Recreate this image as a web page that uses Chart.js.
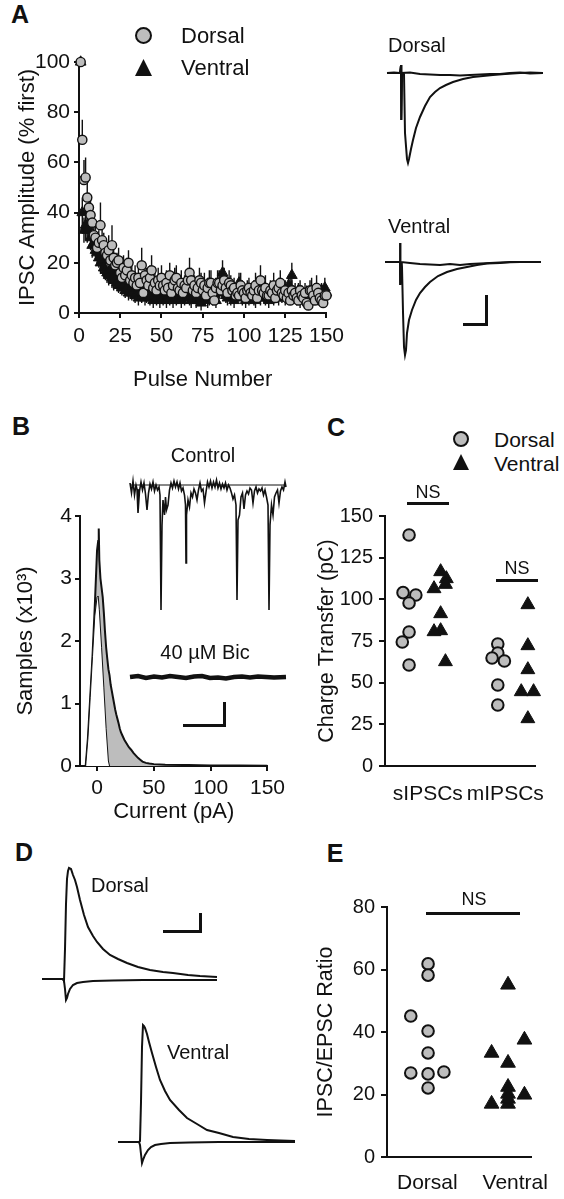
<!DOCTYPE html>
<html><head><meta charset="utf-8">
<script src="https://cdn.jsdelivr.net/npm/chart.js@4.4.0/dist/chart.umd.min.js"></script>
<style>
html,body{margin:0;padding:0;background:#fff;}
body{width:564px;height:1199px;position:relative;overflow:hidden;font-family:'Liberation Sans',Arial,Helvetica,sans-serif;color:#111;}
canvas{position:absolute;}
.t{position:absolute;line-height:1;white-space:nowrap;}
.bar{position:absolute;background:#111;}
svg{position:absolute;}
</style></head><body>
<script>
// ---------------- DATA ----------------
// Panel A: IPSC amplitude (% first) per pulse
const A_PULSE_COUNT = 150;
const A_X_TICKS = [0,25,50,75,100,125,150];
const A_Y_TICKS = [0,20,40,60,80,100];
const DORSAL_AMP = [100,69,53,54,46,42,39,36,31,30,
 26,28,35,29,27,24,23,25,21,27,
 22,19,20,21,16,14,18,15,17,20,
 13,15,12,14,11,14,12,19,8,15,
 13,11,14,17,10,12,9,13,11,14,
 11,9,12,10,15,8,11,13,14,10,
 9,12,8,11,10,13,16,13,9,11,
 8,10,13,12,9,11,7,10,12,12,
 8,5,10,12,12,9,11,13,10,8,
 12,11,9,10,7,8,7,11,9,8,
 6,9,10,8,7,9,11,6,9,13,
 9,8,10,7,7,9,8,11,6,9,
 10,12,8,7,9,6,8,5,9,7,
 8,6,5,9,7,6,8,4,3,9,
 9,7,5,10,8,6,5,4,7,7];
const DORSAL_ERR = [0,8,8,8,7,6,6,6,5,6,
 5,5,9,5,5,5,5,6,5,8,
 5,5,4,5,5,4,5,5,5,5,
 4,5,4,5,4,5,4,7,4,5,
 5,4,5,6,4,5,4,5,4,5,
 4,4,5,4,5,4,4,5,5,4,
 4,5,4,4,4,5,6,5,4,4,
 4,4,5,4,4,5,4,4,5,5,
 4,3,4,5,5,4,5,5,4,4,
 5,4,4,4,4,4,4,5,4,4,
 4,4,4,4,4,4,5,4,4,6,
 4,4,5,4,4,4,4,5,4,4,
 4,5,4,4,4,4,4,4,4,4,
 4,4,4,4,4,4,4,3,3,4,
 5,4,4,5,4,4,4,3,4,4];
const VENTRAL_AMP = [100,40,33,35,33,34,30,27,28,25,
 24,22,20,21,18,17,16,15,17,14,
 13,15,12,11,12,10,11,9,10,8,
 9,8,10,7,8,6,9,7,8,6,
 7,8,6,9,5,7,6,8,5,7,
 6,8,5,7,6,9,5,7,6,8,
 7,5,8,6,9,7,6,5,8,7,
 5,7,6,4,8,6,7,5,6,8,
 6,7,5,8,9,12,16,10,7,6,
 8,6,7,5,9,7,12,8,6,7,
 5,8,6,7,9,6,5,8,7,6,
 9,7,6,8,5,7,9,6,8,7,
 6,8,7,9,6,8,11,10,15,8,
 7,6,9,5,8,7,6,8,5,7,
 6,8,9,7,6,8,9,7,10,8];
const VENTRAL_ERR = [0,6,5,6,5,5,5,5,5,4,
 5,4,4,4,4,4,4,4,4,4,
 4,4,3,3,3,3,3,3,3,3,
 3,3,3,3,3,3,3,3,3,3,
 3,3,3,3,3,3,3,3,3,3,
 3,3,3,3,3,3,3,3,3,3,
 3,3,3,3,3,3,3,3,3,3,
 3,3,3,3,3,3,3,3,3,3,
 3,3,3,3,3,4,5,4,3,3,
 3,3,3,3,3,3,4,3,3,3,
 3,3,3,3,3,3,3,3,3,3,
 3,3,3,3,3,3,3,3,3,3,
 3,3,3,3,3,3,4,4,5,3,
 3,3,3,3,3,3,3,3,3,3,
 3,3,3,3,3,3,3,3,4,3];

// Panel A example traces (time ms, current pA; relative to stimulus / baseline)
const A_DOR_T_IPSC = [-13,-6,0,1,1.3,2,4,5,7,8,9,11,13,16,20,25,30,35,40,46,53,63,73,83,93,105,120,130,143];
const A_DOR_I_IPSC = [0,0.5,0,8,-47,0,-1,-60,-86,-90,-86,-76,-67,-55,-44,-33,-24,-19,-15,-12,-9,-6,-4,-3,-2,-1,0,0.5,0];
const A_DOR_T_FLAT = [-13,0,1,1.3,2,10,20,30,40,50,60,70,80,90,100,110,120,130,143];
const A_DOR_I_FLAT = [0,0,8,-47,0,0.5,-1,-1.5,-2,-2,-2.5,-2,-1.5,-1,-1,0,0.5,-0.5,0];
const A_VEN_T_IPSC = [-15,0,0,0.5,1.5,2,3,4,5,6,7,9,12,16,20,25,30,38,47,57,67,77,87,100,110,125,141];
const A_VEN_I_IPSC = [0,0,19,-23,0,-5,-50,-85,-93,-88,-71,-58,-48,-38,-31,-25,-20,-14,-10,-7,-5,-3,-1.5,-1,0,0,0];
const A_VEN_T_FLAT = [-15,0,0,0.5,1.5,10,20,30,40,50,60,70,80,90,100,120,141];
const A_VEN_I_FLAT = [0,0,19,-23,0,-1,-2,-2.5,-3,-2,-3,-2,-1.5,-1,-0.5,0,0];

// Panel B: all-points histogram (current pA, samples x10^3)
const B_X_TICKS = [0,50,100,150];
const B_Y_TICKS = [0,1,2,3,4];
const HIST_CTRL_X = [-10,-8,-6,-4,-2,-1,0,1,1.5,2,3,4,5,6,7,8,9,10,11,12,13,14,15,16,17,18,19,20,21,22,24,26,28,30,32,34,36,38,40,43,46,50,60,80,100,125,150];
const HIST_CTRL_Y = [0,0.45,1.1,1.75,2.55,3.0,3.45,3.6,3.8,3.3,3.0,2.85,2.7,2.45,2.15,1.9,1.72,1.55,1.45,1.3,1.2,1.1,1.0,0.9,0.82,0.75,0.68,0.6,0.54,0.5,0.42,0.36,0.3,0.26,0.21,0.17,0.13,0.1,0.07,0.05,0.04,0.03,0.02,0.015,0.01,0.007,0.004];
const HIST_BIC_X = [-10,-8,-6,-4,-2,0,1,2,4,6,8,10,11];
const HIST_BIC_Y = [0,0.45,1.1,1.75,2.4,2.7,2.72,2.5,1.9,1.25,0.6,0.08,0];
// Panel B example traces
const B_CTRL_T = [0,1.5,3,4.5,6,7,8,9.5,11,12.5,14,15.5,17,18.5,20,21.5,23,24.5,26,27.5,29,30,31,32,33,34.5,35.5,36.5,38,39.5,41,42.5,44,45.5,47,48.5,50,51.5,53,54.5,55.5,56,56.5,58,59.5,61,62.5,64,65.5,67,68.5,70,71.5,73,74.5,76,77.5,79,80.5,82,83.5,85,86.5,88,89.5,91,92.5,94,95.5,97,98.5,100,101.5,103,104.5,106,107,108,109.5,111,112.5,114,115.5,117,118.5,120,121.5,123,124.5,126,127.5,129,130.5,132,133.5,135,136.5,138,139,140,141.5,143,144.5,146,147.5,149,150.5,152,153.5,155,156];
const B_CTRL_I = [2,-8,4,-10,0,-4,-28,-6,3,-5,2,-9,-25,-8,1,-4,3,-6,0,-5,-2,-10,-125,-40,-15,-30,-12,-25,-20,-5,2,-3,4,-2,3,-4,2,-6,-3,-10,-20,-78,-30,-15,-22,-8,-12,-4,-8,-15,-5,2,-6,-4,-18,-7,3,-2,4,-3,3,-2,5,-3,2,-4,1,-3,2,-5,0,-3,-8,-14,-10,-20,-115,-35,-30,-12,-8,-24,-10,-6,-9,-3,-5,-18,-6,-2,-8,-4,-6,-3,-10,-5,-12,-20,-125,-40,-20,-30,-12,-8,-5,-18,-6,-2,-5,3,-2];
const B_BASE_T = [0,156];
const B_BASE_I = [0,0];
const B_BIC_T = [0,8,16,24,32,40,48,56,64,72,80,88,96,104,112,120,128,136,144,156];
const B_BIC_I = [0,1,-1,0.5,-0.5,1,0,-1,0.5,1,-1,-0.5,-1.5,0,0.5,-0.5,0.5,0,-0.5,0];

// Panel C: charge transfer (pC)
const C_Y_TICKS = [0,25,50,75,100,125,150];
const C_GROUPS = ['sIPSCs','mIPSCs'];
const C_DOR_S = [138.6,104,102.6,97.8,80.4,74.4,60.6];
const C_DOR_S_JIT = [0,-4,4.5,0,0,-4.5,0];
const C_VEN_S = [116.6,112.4,109,106.4,91.4,81.2,80.6,62.6];
const C_VEN_S_JIT = [0,3.8,3.2,-4.4,0,0,-4.4,3.2];
const C_DOR_M = [73.2,67.8,64.8,63,48.6,36.6];
const C_DOR_M_JIT = [0,0,-3.8,4.4,0,0];
const C_VEN_M = [96.8,72.2,57.8,44.6,44.6,28.4];
const C_VEN_M_JIT = [0,0,0,-4.4,3.8,0];

// Panel E: IPSC/EPSC ratio
const E_Y_TICKS = [0,20,40,60,80];
const E_GROUPS = ['Dorsal','Ventral'];
const E_DOR = [61.8,58.2,45.1,40.3,33.3,26.9,26.6,27.2,22.1];
const E_DOR_JIT = [0,0,-12,0,0,-12,0,11,0];
const E_VEN = [55.1,37.5,33.3,30.1,22.4,20.2,19.9,17,17,18.6];
const E_VEN_JIT = [0,11.4,-11.4,0,0,0,11.4,-11.4,0,0];

// Panel D example traces (time ms, current pA)
const D_DOR_T_OUT = [-21,0,1,2,3,4,5,6,8,10,12,14,17,21,25,30,34,40,47,55,64,75,87,100,110,125,137,154];
const D_DOR_I_OUT = [0,0,-2,30,75,100,108,111,110,104,99,92,79,64,52,43,37,30,24,20,16,12,9,7,6,4,3,2];
const D_DOR_T_IN = [-21,0,1,2,3,4,5,7,10,14,20,30,50,80,120,154];
const D_DOR_I_IN = [0,0,-2,-10,-21,-19,-15,-10,-6,-4,-3,-2,-1.5,-1,-1,-1];
const D_VEN_T_OUT = [-21,0,1,2,3,4,5,6,8,10,13,17,21,26,31,40,48,58,68,80,94,110,128,156];
const D_VEN_I_OUT = [0,0,1,40,95,117,116,114,108,100,89,75,62,51,42,32,24,18,12,9,5,3,2,1];
const D_VEN_T_IN = [-21,0,1,2,3,4,6,9,12,16,22,31,50,80,156];
const D_VEN_I_IN = [0,0,-3,-12,-21,-18,-13,-8,-5,-3,-2,-1,-0.5,0,0];

// ---------------- STYLE / HELPERS ----------------
const INK = '#111';
const GRAY = '#bdbdbd';
Chart.defaults.font.family = "'Liberation Sans', Arial, Helvetica, sans-serif";
Chart.defaults.color = INK;
Chart.defaults.animation = false;
Chart.defaults.events = [];
Chart.defaults.plugins.legend.display = false;
Chart.defaults.plugins.tooltip.enabled = false;

function mk(L,T,W,H){
  const c=document.createElement('canvas');
  c.width=W;c.height=H;
  c.style.left=L+'px';c.style.top=T+'px';c.style.width=W+'px';c.style.height=H+'px';
  document.body.appendChild(c);return c;
}
function txt(s,x,y,size,o){
  o=o||{};
  const d=document.createElement('div');d.className='t';d.textContent=s;
  d.style.fontSize=size+'px';d.style.left=x+'px';d.style.top=y+'px';
  if(o.bold)d.style.fontWeight='bold';
  d.style.transform=o.left?'translateY(-50%)':'translate(-50%,-50%)';
  document.body.appendChild(d);
}
function bar(x,y,w,h){const d=document.createElement('div');d.className='bar';
  d.style.left=x+'px';d.style.top=y+'px';d.style.width=w+'px';d.style.height=h+'px';document.body.appendChild(d);}
function sym(kind,cx,cy,s){
  const ns='http://www.w3.org/2000/svg';
  const sv=document.createElementNS(ns,'svg');
  sv.setAttribute('width',s+4);sv.setAttribute('height',s+4);
  sv.style.left=(cx-s/2-2)+'px';sv.style.top=(cy-s/2-2)+'px';
  let e;
  if(kind==='circle'){e=document.createElementNS(ns,'circle');e.setAttribute('cx',s/2+2);e.setAttribute('cy',s/2+2);e.setAttribute('r',s/2-1);
    e.setAttribute('fill',GRAY);e.setAttribute('stroke',INK);e.setAttribute('stroke-width',2);}
  else{e=document.createElementNS(ns,'polygon');
    e.setAttribute('points',`${s/2+2},2 ${s+2},${s+2} 2,${s+2}`);e.setAttribute('fill',INK);}
  sv.appendChild(e);document.body.appendChild(sv);
}
function zip(xs,ys){return xs.map((x,i)=>({x:x,y:ys[i]}));}
function valAxis(o){
  return {
    type:'linear',min:o.min,max:o.max,
    afterBuildTicks:s=>{s.ticks=o.ticks.map(v=>({value:v}));},
    afterFit:s=>{if(o.width!=null)s.width=o.width;if(o.height!=null)s.height=o.height;},
    border:{display:true,color:INK,width:2},
    grid:{display:true,drawOnChartArea:false,drawTicks:o.tickLen>0,tickLength:o.tickLen||0,color:INK,lineWidth:2},
    ticks:{color:INK,font:{size:o.size},padding:o.tickPad,maxRotation:0,minRotation:0,autoSkip:false,
      callback:o.labels?((v,i)=>o.labels[i]):(v=>String(v))},
    title:{display:true,text:o.title,color:INK,font:{size:o.titleSize},padding:o.titlePad}
  };
}
function traceChart(L,T,W,H,xmin,xmax,ymin,ymax,sets){
  new Chart(mk(L,T,W,H),{type:'scatter',
    data:{datasets:sets.map(s=>({data:s.d,showLine:true,pointRadius:0,borderColor:INK,borderWidth:s.w||2,tension:0,clip:false,fill:false}))},
    options:{responsive:false,layout:{padding:0},
      scales:{x:{type:'linear',display:false,min:xmin,max:xmax},y:{type:'linear',display:false,min:ymin,max:ymax}}}});
}

// ---------------- PANEL A ----------------
const PULSES = Array.from({length:A_PULSE_COUNT},(_,i)=>i+1);
function errSegs(vals,errs,up,down){
  const out=[];
  vals.forEach((v,i)=>{const p=PULSES[i];
    out.push({x:p,y:v-(down?errs[i]:0)});out.push({x:p,y:v+(up?errs[i]:0)});out.push({x:p,y:null});});
  return out;
}
new Chart(mk(0,40,350,360),{type:'scatter',
  data:{datasets:[
    {data:zip(PULSES,DORSAL_AMP),pointStyle:'circle',pointRadius:4.6,backgroundColor:GRAY,borderColor:INK,borderWidth:1.4,clip:false},
    {data:errSegs(DORSAL_AMP,DORSAL_ERR,true,false),showLine:true,pointRadius:0,borderColor:INK,borderWidth:1.4,spanGaps:false,clip:false},
    {data:zip(PULSES,VENTRAL_AMP),pointStyle:'triangle',pointRadius:6.2,backgroundColor:INK,borderColor:INK,borderWidth:1,clip:false},
    {data:errSegs(VENTRAL_AMP,VENTRAL_ERR,true,true),showLine:true,pointRadius:0,borderColor:INK,borderWidth:1.4,spanGaps:false,clip:false}
  ]},
  options:{responsive:false,layout:{padding:{left:0,top:22,right:20,bottom:0}},
    scales:{
      x:valAxis({min:0,max:150,ticks:A_X_TICKS,height:87,size:21,tickPad:6,tickLen:5,title:'Pulse Number',titleSize:22,titlePad:{top:0,bottom:7}}),
      y:valAxis({min:0,max:100,ticks:A_Y_TICKS,width:79,size:21,tickPad:4,tickLen:5,title:'IPSC Amplitude (% first)',titleSize:22,titlePad:{top:15,bottom:0}})
    }}});
traceChart(380,55,170,115,-20,150,-97,18,[{d:zip(A_DOR_T_FLAT,A_DOR_I_FLAT)},{d:zip(A_DOR_T_IPSC,A_DOR_I_IPSC)}]);
traceChart(380,235,170,130,-20,150,-103,27,[{d:zip(A_VEN_T_FLAT,A_VEN_I_FLAT)},{d:zip(A_VEN_T_IPSC,A_VEN_I_IPSC)}]);

// ---------------- PANEL B ----------------
new Chart(mk(0,490,290,340),{type:'scatter',
  data:{datasets:[
    {data:zip(HIST_BIC_X,HIST_BIC_Y),showLine:true,pointRadius:0,borderColor:INK,borderWidth:1,backgroundColor:'#fff',fill:'origin',tension:0},
    {data:zip(HIST_CTRL_X,HIST_CTRL_Y),showLine:true,pointRadius:0,borderColor:INK,borderWidth:2,backgroundColor:GRAY,fill:'origin',tension:0}
  ]},
  options:{responsive:false,layout:{padding:{left:0,top:26,right:21,bottom:0}},
    scales:{
      x:valAxis({min:-15,max:150,ticks:B_X_TICKS,height:64,size:21,tickPad:5,tickLen:5,title:'Current (pA)',titleSize:22,titlePad:{top:0,bottom:5}}),
      y:valAxis({min:0,max:4,ticks:B_Y_TICKS,width:80,size:21,tickPad:3,tickLen:5,title:'Samples (x10³)',titleSize:22,titlePad:{top:13,bottom:0}})
    }}});
traceChart(125,470,165,150,-5,160,-135,15,[{d:zip(B_BASE_T,B_BASE_I),w:1},{d:zip(B_CTRL_T,B_CTRL_I),w:1.6}]);
traceChart(125,665,165,25,-5,160,-13,12,[{d:zip(B_BIC_T,B_BIC_I),w:4.5}]);

// ---------------- PANEL C ----------------
const C_CENTERS = [16,37,75,95];
const C_LABEL_POS = [28.5,80];
function jit(vals,jits,c){return vals.map((v,i)=>({x:c+jits[i],y:v}));}
new Chart(mk(295,490,269,330),{type:'scatter',
  data:{datasets:[
    {data:jit(C_DOR_S,C_DOR_S_JIT,C_CENTERS[0]),pointStyle:'circle',pointRadius:5.8,backgroundColor:GRAY,borderColor:INK,borderWidth:2,clip:false},
    {data:jit(C_DOR_M,C_DOR_M_JIT,C_CENTERS[2]),pointStyle:'circle',pointRadius:5.8,backgroundColor:GRAY,borderColor:INK,borderWidth:2,clip:false},
    {data:jit(C_VEN_S,C_VEN_S_JIT,C_CENTERS[1]),pointStyle:'triangle',pointRadius:8,backgroundColor:INK,borderColor:INK,borderWidth:1,clip:false},
    {data:jit(C_VEN_M,C_VEN_M_JIT,C_CENTERS[3]),pointStyle:'triangle',pointRadius:8,backgroundColor:INK,borderColor:INK,borderWidth:1,clip:false}
  ]},
  options:{responsive:false,layout:{padding:{left:0,top:26,right:21,bottom:0}},
    scales:{
      x:Object.assign(valAxis({min:0,max:100,ticks:C_LABEL_POS,labels:C_GROUPS,height:54,size:21,tickPad:16,tickLen:0,title:'',titleSize:22,titlePad:0}),{title:{display:false}}),
      y:valAxis({min:0,max:150,ticks:C_Y_TICKS,width:90,size:20,tickPad:6,tickLen:6,title:'Charge Transfer (pC)',titleSize:21.5,titlePad:{top:19,bottom:0}})
    }}});

// ---------------- PANEL D ----------------
traceChart(35,860,190,150,-28,162,-31,119,[{d:zip(D_DOR_T_IN,D_DOR_I_IN)},{d:zip(D_DOR_T_OUT,D_DOR_I_OUT)}]);
traceChart(110,1015,190,160,-29,161,-33,127,[{d:zip(D_VEN_T_IN,D_VEN_I_IN)},{d:zip(D_VEN_T_OUT,D_VEN_I_OUT)}]);

// ---------------- PANEL E ----------------
const E_CENTERS = [28.5,84];
const E_LABEL_POS = [28,89];
new Chart(mk(295,880,269,319),{type:'scatter',
  data:{datasets:[
    {data:jit(E_DOR,E_DOR_JIT,E_CENTERS[0]),pointStyle:'circle',pointRadius:5.8,backgroundColor:GRAY,borderColor:INK,borderWidth:2,clip:false},
    {data:jit(E_VEN,E_VEN_JIT,E_CENTERS[1]),pointStyle:'triangle',pointRadius:8.5,backgroundColor:INK,borderColor:INK,borderWidth:1,clip:false}
  ]},
  options:{responsive:false,layout:{padding:{left:0,top:27,right:19,bottom:0}},
    scales:{
      x:Object.assign(valAxis({min:0,max:100,ticks:E_LABEL_POS,labels:E_GROUPS,height:42,size:21,tickPad:14,tickLen:0,title:'',titleSize:22,titlePad:0}),{title:{display:false}}),
      y:valAxis({min:0,max:80,ticks:E_Y_TICKS,width:92,size:20,tickPad:6,tickLen:6,title:'IPSC/EPSC Ratio',titleSize:21.5,titlePad:{top:18,bottom:0}})
    }}});

// ---------------- TEXT / ANNOTATIONS ----------------
txt('A',20,14,25,{bold:true});
txt('B',21,426,25,{bold:true});
txt('C',336,427,25,{bold:true});
txt('D',24,852,25,{bold:true});
txt('E',335,853,25,{bold:true});
// legends
sym('circle',143,35,17);txt('Dorsal',181,36,22,{left:true});
sym('triangle',143,67,17);txt('Ventral',181,68,22,{left:true});
sym('circle',461,439,16);txt('Dorsal',494,439,21,{left:true});
sym('triangle',461,462,16);txt('Ventral',494,463,21,{left:true});
// trace labels
txt('Dorsal',388,45,20,{left:true});
txt('Ventral',388,226,20,{left:true});
txt('Control',203,455,20);
txt('40 µM Bic',205,652,20);
txt('Dorsal',91,885,20,{left:true});
txt('Ventral',167,1052,20,{left:true});
// NS brackets
txt('NS',428,492,18);bar(407,502,42,3);
txt('NS',517,568,18);bar(496,579,42,3);
txt('NS',474,899,18);bar(426,912,94,3);
// scale bars
bar(485,295,3,31);bar(463,323,25,3);
bar(223,702,3,25);bar(183,724,43,3);
bar(199,913,3,20);bar(163,930,39,3);
</script>
</body></html>
